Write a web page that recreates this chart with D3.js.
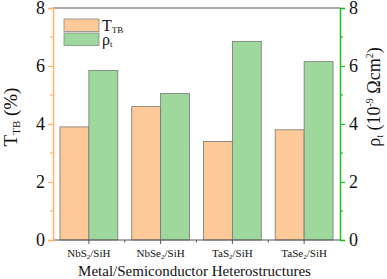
<!DOCTYPE html>
<html>
<head>
<meta charset="utf-8">
<script src="https://cdn.jsdelivr.net/npm/d3@7"></script>
<style>
  body { margin: 0; background: #fff; }
  svg, svg text, svg tspan { font-family: 'Liberation Serif', 'DejaVu Serif', serif !important; }
</style>
</head>
<body>
<div id="vis"></div>
<script>
'use strict'

const categories = ['NbS', 'NbSe', 'TaS', 'TaSe']
const ttbValues = [3.9, 4.6, 3.4, 3.8]
const rhoValues = [5.85, 5.05, 6.85, 6.15]
const yTicks = [0, 2, 4, 6, 8]
const yMinor = [1, 3, 5, 7]

const serif = "'Liberation Serif', 'DejaVu Serif', serif"

const totalWidth = 387
const totalHeight = 279
const margin = { top: 8, right: 47, bottom: 39, left: 53 }
const width = totalWidth - margin.left - margin.right
const height = totalHeight - margin.top - margin.bottom

const orange = '#fdc999'
const green = '#9fd89c'
const orangeAxis = '#ffb468'
const greenAxis = '#1fbf1f'

const x = d3.scaleBand()
  .domain(categories)
  .range([0, width])
  .paddingInner(0.194)
  .paddingOuter(0.097)

const y = d3.scaleLinear().domain([0, 8]).range([height, 0])
const y2 = d3.scaleLinear().domain([0, 8]).range([height, 0])

const svg = d3.select('#vis').append('svg')
  .attr('width', totalWidth)
  .attr('height', totalHeight)
  .style('font-family', serif)

const g = svg.append('g')
  .attr('transform', 'translate(' + margin.left + ',' + margin.top + ')')

// bars
const half = x.bandwidth() / 2
g.selectAll('rect.ttb')
  .data(ttbValues)
  .join('rect')
    .attr('x', (d, i) => x(categories[i]))
    .attr('y', d => y(d))
    .attr('width', half)
    .attr('height', d => height - y(d))
    .attr('fill', orange)
    .attr('stroke', '#777')
    .attr('stroke-width', 0.8)

g.selectAll('rect.rho')
  .data(rhoValues)
  .join('rect')
    .attr('x', (d, i) => x(categories[i]) + half)
    .attr('y', d => y2(d))
    .attr('width', half)
    .attr('height', d => height - y2(d))
    .attr('fill', green)
    .attr('stroke', '#777')
    .attr('stroke-width', 0.8)

// top frame
g.append('line')
  .attr('x1', 0).attr('x2', width)
  .attr('y1', 0).attr('y2', 0)
  .attr('stroke', '#555').attr('stroke-width', 1.2)

// bottom axis
const xAxis = g.append('g')
  .attr('transform', 'translate(0,' + height + ')')
xAxis.append('line')
  .attr('x1', 0).attr('x2', width)
  .attr('stroke', '#555').attr('stroke-width', 1.2)
xAxis.selectAll('line.major')
  .data(categories)
  .join('line')
    .attr('x1', d => x(d) + half).attr('x2', d => x(d) + half)
    .attr('y1', 0).attr('y2', 4)
    .attr('stroke', '#555')
xAxis.selectAll('line.minor')
  .data(categories.slice(1))
  .join('line')
    .attr('x1', d => x(d) - x.step() * 0.097).attr('x2', d => x(d) - x.step() * 0.097)
    .attr('y1', 0).attr('y2', 2.5)
    .attr('stroke', '#555')
xAxis.selectAll('text.cat')
  .data(categories)
  .join('text')
    .attr('x', d => x(d) + half)
    .attr('y', 17)
    .attr('text-anchor', 'middle')
    .attr('font-size', 11)
    .attr('fill', '#111')
    .style('font-family', serif)
    .each(function (d) {
      const t = d3.select(this)
      t.append('tspan').text(d)
      t.append('tspan').attr('font-size', 7).attr('dy', 2).text('2')
      t.append('tspan').attr('dy', -2).text('/SiH')
    })

svg.append('text')
  .attr('x', margin.left + width / 2 - 2)
  .attr('y', 276)
  .attr('text-anchor', 'middle')
  .attr('font-size', 15)
  .attr('fill', '#111')
  .style('font-family', serif)
  .text('Metal/Semiconductor Heterostructures')

// left axis
const yAxisL = d3.axisLeft(y).tickValues(yTicks).tickSize(5).tickPadding(3)
const gl = g.append('g').call(yAxisL).attr('font-family', serif)
gl.select('.domain').attr('stroke', orangeAxis).attr('stroke-width', 1.5)
gl.selectAll('.tick line').attr('stroke', orangeAxis).attr('stroke-width', 1.2)
gl.selectAll('.tick text').attr('font-size', 18).attr('fill', '#111').style('font-family', serif)
gl.selectAll('line.minor')
  .data(yMinor)
  .join('line')
    .attr('x1', -3).attr('x2', 0)
    .attr('y1', d => y(d)).attr('y2', d => y(d))
    .attr('stroke', orangeAxis).attr('stroke-width', 1.2)

// right axis
const yAxisR = d3.axisRight(y2).tickValues(yTicks).tickSize(5).tickPadding(4)
const gr = g.append('g').attr('transform', 'translate(' + width + ',0)').call(yAxisR).attr('font-family', serif)
gr.select('.domain').attr('stroke', greenAxis).attr('stroke-width', 1.5)
gr.selectAll('.tick line').attr('stroke', greenAxis).attr('stroke-width', 1.2)
gr.selectAll('.tick text').attr('font-size', 18).attr('fill', '#111').style('font-family', serif)
gr.selectAll('line.minor')
  .data(yMinor)
  .join('line')
    .attr('x1', 0).attr('x2', 3)
    .attr('y1', d => y2(d)).attr('y2', d => y2(d))
    .attr('stroke', greenAxis).attr('stroke-width', 1.2)

// y titles
const ltitle = svg.append('text')
  .attr('transform', 'translate(17,117) rotate(-90)')
  .attr('text-anchor', 'middle')
  .attr('font-size', 19)
  .attr('fill', '#111')
  .style('font-family', serif)
ltitle.append('tspan').text('T')
ltitle.append('tspan').attr('font-size', 11).attr('dy', 3).text('TB')
ltitle.append('tspan').attr('dy', -3).text(' (%)')

const rtitle = svg.append('text')
  .attr('transform', 'translate(380,97) rotate(-90)')
  .attr('text-anchor', 'middle')
  .attr('font-size', 18)
  .attr('fill', '#111')
  .style('font-family', serif)
rtitle.append('tspan').text('ρ')
rtitle.append('tspan').attr('font-size', 10).attr('dy', 3).text('t')
rtitle.append('tspan').attr('dy', -3).text(' (10')
rtitle.append('tspan').attr('font-size', 10).attr('dy', -7).text('-9')
rtitle.append('tspan').attr('dy', 7).text(' Ωcm')
rtitle.append('tspan').attr('font-size', 10).attr('dy', -7).text('2')
rtitle.append('tspan').attr('dy', 7).text(')')

// legend
const legend = svg.append('g').attr('transform', 'translate(64,19)')
const legendItems = [
  { fill: orange, main: 'T', sub: 'TB' },
  { fill: green, main: 'ρ', sub: 't' }
]
legend.selectAll('rect')
  .data(legendItems)
  .join('rect')
    .attr('x', 0)
    .attr('y', (d, i) => i * 14)
    .attr('width', 35)
    .attr('height', 12.5)
    .attr('fill', d => d.fill)
    .attr('stroke', '#888')
    .attr('stroke-width', 0.8)
legend.selectAll('text')
  .data(legendItems)
  .join('text')
    .attr('x', 38)
    .attr('y', (d, i) => i * 14 + 12)
    .attr('font-size', 16)
    .attr('fill', '#111')
    .style('font-family', serif)
    .each(function (d) {
      const t = d3.select(this)
      t.append('tspan').text(d.main)
      t.append('tspan').attr('font-size', 9).attr('dy', 2).text(d.sub)
    })
</script>
</body>
</html>
